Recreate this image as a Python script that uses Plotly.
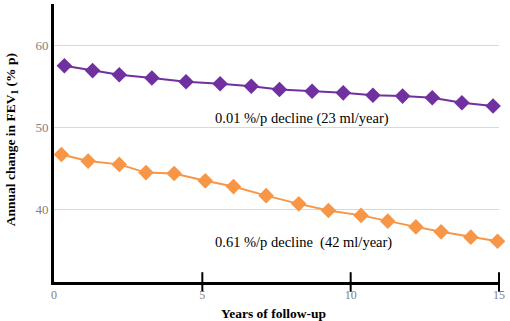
import plotly.graph_objects as go

# Data
years_a = [0.35, 1.3, 2.2, 3.3, 4.45, 5.6, 6.65, 7.6, 8.7, 9.75, 10.75, 11.75, 12.75, 13.75, 14.8]
fev_a = [57.5, 56.9, 56.4, 56.0, 55.55, 55.3, 55.0, 54.6, 54.4, 54.2, 53.9, 53.8, 53.6, 53.0, 52.6]

years_b = [0.25, 1.15, 2.2, 3.1, 4.05, 5.1, 6.05, 7.15, 8.25, 9.25, 10.35, 11.25, 12.2, 13.05, 14.05, 14.95]
fev_b = [46.7, 45.9, 45.5, 44.5, 44.4, 43.5, 42.8, 41.7, 40.7, 39.9, 39.3, 38.6, 37.9, 37.3, 36.65, 36.15]

x_ticks = [0, 5, 10, 15]
y_ticks = [40, 50, 60]
y_range = [31.2, 65]
label_a = "0.01 %/p decline (23 ml/year)"
label_b = "0.61 %/p decline \u00a0(42 ml/year)"
x_title = "<b>Years of follow-up</b>"
y_title = "<b>Annual change in FEV<sub>1</sub> (% p)</b>"

serif = "Liberation Serif, Times New Roman, serif"

fig = go.Figure()
fig.add_trace(go.Scatter(
    x=years_a, y=fev_a, mode="lines+markers",
    line=dict(color="#7030A0", width=2),
    marker=dict(symbol="diamond", size=12, color="#7030A0"),
    showlegend=False, cliponaxis=False, hoverinfo="skip",
))
fig.add_trace(go.Scatter(
    x=years_b, y=fev_b, mode="lines+markers",
    line=dict(color="#F79646", width=2),
    marker=dict(symbol="diamond", size=12, color="#F79646"),
    showlegend=False, cliponaxis=False, hoverinfo="skip",
))
# tick marks crossing the x axis, placed through the x scale
fig.add_trace(go.Scatter(
    x=x_ticks[1:], y=[y_range[0]] * len(x_ticks[1:]), mode="markers",
    marker=dict(symbol="line-ns", size=14, line=dict(color="#000", width=2)),
    showlegend=False, cliponaxis=False, hoverinfo="skip",
))

fig.add_annotation(x=8.37, y=51.1, text=label_a, showarrow=False,
                   font=dict(family=serif, size=14.5, color="#000"))
fig.add_annotation(x=8.4, y=36.05, text=label_b, showarrow=False,
                   font=dict(family=serif, size=14.5, color="#000"))

# axis titles
fig.add_annotation(x=0.494, y=0, xref="paper", yref="paper", yanchor="middle",
                   yshift=-31, text=x_title, showarrow=False,
                   font=dict(family=serif, size=13.5, color="#000"))
fig.add_annotation(x=0, y=0.51, xref="paper", yref="paper", xanchor="center",
                   xshift=-43, textangle=-90, text=y_title, showarrow=False,
                   font=dict(family=serif, size=13.5, color="#000"))

fig.update_layout(
    width=510, height=321,
    margin=dict(l=54, r=11, t=4, b=39),
    paper_bgcolor="white", plot_bgcolor="white",
    font=dict(family=serif),
    hovermode=False,
    xaxis=dict(
        range=[0, 15], tickvals=x_ticks, showgrid=False, ticks="",
        showline=True, linecolor="#000", linewidth=3, zeroline=False,
        tickfont=dict(family=serif, size=12, color="#7f7f7f"),
        automargin=False,
    ),
    yaxis=dict(
        range=y_range, tickvals=y_ticks, ticks="",
        showgrid=True, gridcolor="#d9d9d9", gridwidth=1,
        showline=True, linecolor="#000", linewidth=3, zeroline=False,
        tickfont=dict(family=serif, size=13, color="#7f7f7f"),
        automargin=False,
    ),
)

fig.write_html(
    "out.html",
    config={"displayModeBar": False},
    post_script="document.body.style.margin='0';document.body.style.overflow='hidden';",
)
